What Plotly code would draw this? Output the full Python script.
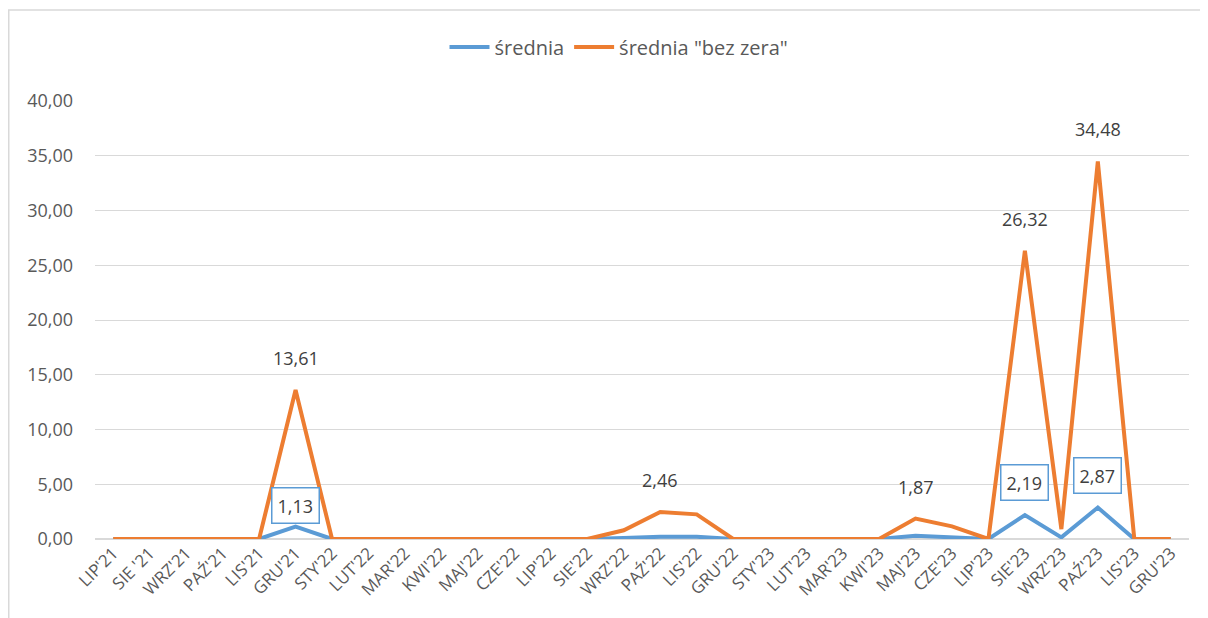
import plotly.graph_objects as go

categories = ["LIP'21", "SIE '21", "WRZ'21", "PAŹ'21", "LIS'21", "GRU'21", "STY'22", "LUT'22",
              "MAR'22", "KWI'22", "MAJ'22", "CZE'22", "LIP'22", "SIE'22", "WRZ'22", "PAŹ'22",
              "LIS'22", "GRU'22", "STY'23", "LUT'23", "MAR'23", "KWI'23", "MAJ'23", "CZE'23",
              "LIP'23", "SIE'23", "WRZ'23", "PAŹ'23", "LIS'23", "GRU'23"]

srednia = [0, 0, 0, 0, 0, 1.13, 0, 0, 0, 0, 0, 0, 0, 0, 0.10, 0.20, 0.20, 0, 0, 0, 0, 0,
           0.30, 0.15, 0, 2.19, 0.15, 2.87, 0, 0]
srednia_bez_zera = [0, 0, 0, 0, 0, 13.61, 0, 0, 0, 0, 0, 0, 0, 0, 0.80, 2.46, 2.25, 0, 0, 0, 0, 0,
                    1.87, 1.15, 0, 26.32, 0.90, 34.48, 0, 0]

labeled_orange = ["GRU'21", "PAŹ'22", "MAJ'23", "SIE'23", "PAŹ'23"]
labeled_blue = ["GRU'21", "SIE'23", "PAŹ'23"]

BLUE = "#5B9BD5"
ORANGE = "#ED7D31"
FONT = "Open Sans"

# page body has an 8px margin; figure coordinates are offset by it
OFF = 8
L, R, T, B = 95 - OFF, 1208 - (1189 - OFF), 101 - OFF, 618 - (539 - OFF)
PW, PH = 1208 - L - R, 618 - T - B


def fmt(v):
    return f"{v:.2f}".replace(".", ",")


fig = go.Figure()
fig.add_trace(go.Scatter(x=categories, y=srednia, mode="lines", name="średnia",
                         line=dict(color=BLUE, width=4)))
fig.add_trace(go.Scatter(x=categories, y=srednia_bez_zera, mode="lines", name='średnia "bez zera"',
                         line=dict(color=ORANGE, width=4)))

annotations = []
for c in labeled_orange:
    v = srednia_bez_zera[categories.index(c)]
    annotations.append(dict(x=c, y=v, xref="x", yref="y", text=fmt(v), showarrow=False,
                            yanchor="bottom", yshift=18,
                            font=dict(family=FONT, size=18, color="#404040")))
blue_shift = {"GRU'21": 3, "SIE'23": 14, "PAŹ'23": 14}
for c in labeled_blue:
    v = srednia[categories.index(c)]
    annotations.append(dict(x=c, y=v, xref="x", yref="y", text=fmt(v), showarrow=False,
                            yanchor="bottom", yshift=blue_shift[c],
                            bordercolor=BLUE, borderwidth=1.5, borderpad=5, bgcolor="white",
                            font=dict(family=FONT, size=18, color="#404040")))

fig.update_layout(
    width=1208, height=618,
    margin=dict(l=L, r=R, t=T, b=B, autoexpand=False),
    paper_bgcolor="white", plot_bgcolor="white",
    separators=", ",
    font=dict(family=FONT, size=18, color="#595959"),
    legend=dict(orientation="h", x=(619 - OFF) / 1208, xanchor="center",
                y=1 - (47 - OFF) / 618, yanchor="middle",
                xref="container", yref="container",
                font=dict(family=FONT, size=20, color="#595959"), itemwidth=40),
    showlegend=True,
    annotations=annotations,
    shapes=[dict(type="rect", xref="paper", yref="paper", x0=(0.75 - L) / PW, x1=1.1,
                 y0=-0.3, y1=(PH + T - 2) / PH,
                 line=dict(color="#d9d9d9", width=1.5), fillcolor="rgba(0,0,0,0)", layer="below")],
)
fig.update_xaxes(type="category", range=[-0.5, 29.5], tickangle=-45, showgrid=False,
                 showline=False, ticks="", automargin=False,
                 tickfont=dict(family=FONT, size=17, color="#595959"))
fig.update_yaxes(range=[0, 40], dtick=5, tickformat=".2f", showgrid=True, gridcolor="#d9d9d9",
                 gridwidth=1, zeroline=True, zerolinecolor="#d9d9d9", zerolinewidth=1.5,
                 ticks="", ticklen=0, automargin=False, ticklabelstandoff=21,
                 tickfont=dict(family=FONT, size=18, color="#595959"))

fig.write_html("out.html")
